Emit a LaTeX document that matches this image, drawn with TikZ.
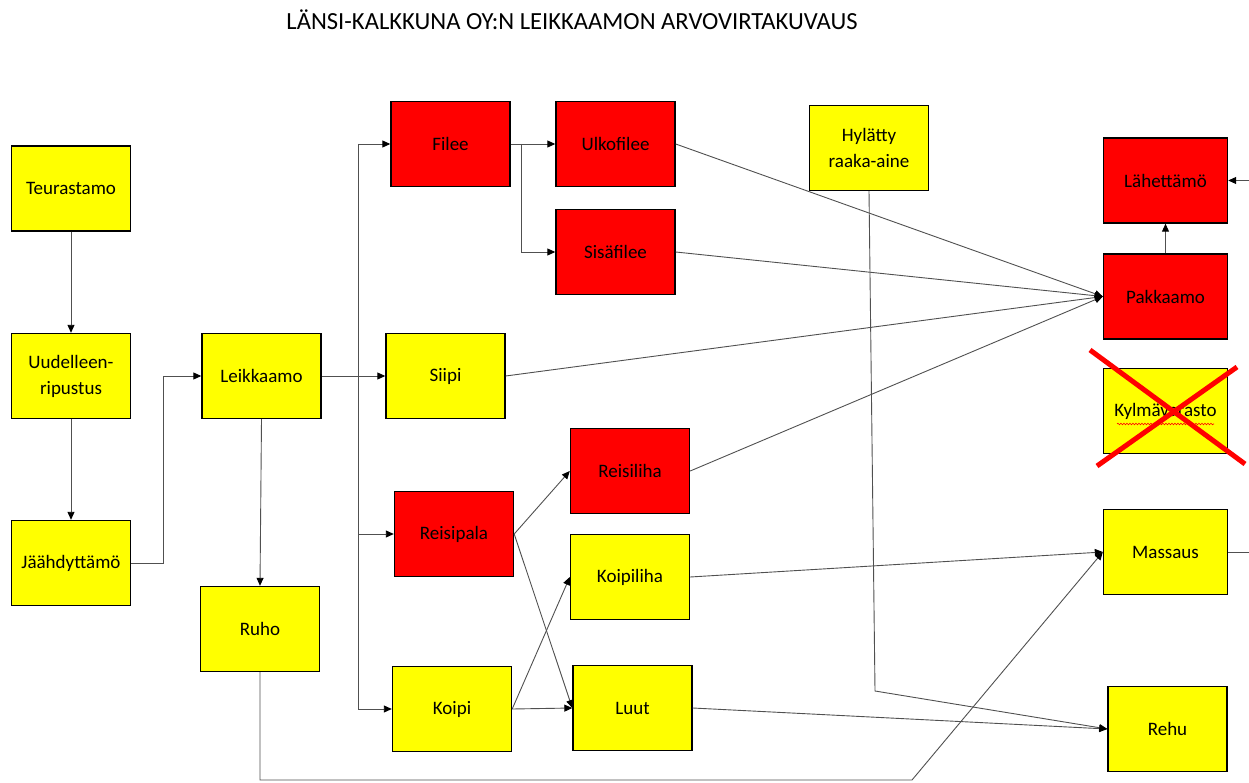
\documentclass[tikz,border=0pt]{standalone}
\usepackage{fontspec}
\setmainfont{Carlito}
\usetikzlibrary{arrows.meta,decorations.pathmorphing}
\definecolor{linegray}{HTML}{505050}
\definecolor{boxyellow}{HTML}{FFFF00}
\definecolor{boxred}{HTML}{FF0000}
\begin{document}
\begin{tikzpicture}[x=1pt,y=-1pt,
  box/.style={draw=black,line width=1.4pt,minimum width=119pt,minimum height=85pt,
    inner sep=2pt,align=center,font=\fontsize{19}{26}\selectfont},
  ybox/.style={box,fill=boxyellow},
  rbox/.style={box,fill=boxred},
  link/.style={draw=linegray,line width=0.9pt},
  flow/.style={link,-{Triangle[length=8pt,width=7pt,color=black]}},
  cross/.style={draw=boxred,line width=5pt}
]
\useasboundingbox (0,0) rectangle (1249,783);

% title
\node[font=\fontsize{24.6}{28}\selectfont] (title) at (572,20) {LÄNSI-KALKKUNA OY:N LEIKKAAMON ARVOVIRTAKUVAUS};

% process boxes
\node[ybox] (teur) at (71,188.5) {Teurastamo};
\node[ybox] (uud) at (71,376) {Uudelleen-\\ripustus};
\node[ybox] (jaa) at (71,563) {Jäähdyttämö};
\node[ybox] (leik) at (261.5,376) {Leikkaamo};
\node[ybox] (ruho) at (260,629) {Ruho};
\node[rbox] (filee) at (450.5,144) {Filee};
\node[rbox] (ulko) at (615.5,144) {Ulkofilee};
\node[rbox] (sisa) at (615.5,252) {Sisäfilee};
\node[ybox] (siipi) at (445.5,376) {Siipi};
\node[rbox] (reisip) at (454,534) {Reisipala};
\node[rbox] (reisil) at (630,471) {Reisiliha};
\node[ybox] (koipil) at (630,577) {Koipiliha};
\node[ybox] (koipi) at (452,709) {Koipi};
\node[ybox] (luut) at (632.5,708) {Luut};
\node[ybox] (hyl) at (869,148) {Hylätty\\raaka-aine};
\node[rbox,minimum width=124pt] (lah) at (1165.5,180.5) {Lähettämö};
\node[rbox,minimum width=124pt] (pak) at (1165.5,296.5) {Pakkaamo};
\node[ybox,minimum width=124pt] (kylma) at (1165.5,411) {Kylmävarasto};
\node[ybox,minimum width=124pt] (mass) at (1165.5,552) {Massaus};
\node[ybox] (rehu) at (1167.5,729) {Rehu};

% bend and branch points
\coordinate (jb) at (163,563);
\coordinate (lb) at (358,376);
\coordinate (fb) at (521,144);
\coordinate (rb) at (912,780);
\coordinate (hb) at (875,691);
\coordinate (lahin) at (1249,180.5);
\coordinate (mout) at (1249,552);

% flows
\draw[flow] (teur) -- (uud);
\draw[flow] (uud) -- (jaa);
\draw[flow] (jaa.east) -- (jb) |- (leik.west);
\draw[flow] (leik.east) -- (siipi.west);
\draw[link] (lb |- filee.west) -- (lb |- koipi.west);
\draw[flow] (lb) |- (filee.west);
\draw[flow] (lb) |- (reisip.west);
\draw[flow] (lb) |- (koipi.west);
\draw[flow] (leik.south) -- (ruho.north);
\draw[flow] (ruho.south) |- (rb) -- (mass.west);
\draw[flow] (filee.east) -- (ulko.west);
\draw[flow] (fb) |- (sisa.west);
\draw[flow] (ulko.east) -- (pak.west);
\draw[flow] (sisa.east) -- (pak.west);
\draw[flow] (siipi.east) -- (pak.west);
\draw[flow] (reisil.east) -- (pak.west);
\draw[flow] (pak.north) -- (lah.south);
\draw[flow] (lahin) -- (lah.east);
\draw[flow] (reisip.east) -- (reisil.west);
\draw[flow] (reisip.east) -- (luut.west);
\draw[flow] (koipi.east) -- (koipil.west);
\draw[flow] (koipi.east) -- (luut.west);
\draw[flow] (koipil.east) -- (mass.west);
\draw[link] (mass.east) -- (mout);
\draw[flow] (luut.east) -- (rehu.west);
\draw[flow] (hyl.south) -- (hb) -- (rehu.west);

% struck-out cold storage
\draw[boxred,line width=0.6pt,decorate,decoration={snake,amplitude=0.8pt,segment length=3pt}]
  (1117,424) -- (1214,424);
\draw[cross] (1090,350) -- (1245,464);
\draw[cross] (1097,466) -- (1237,367);
\end{tikzpicture}
\end{document}
